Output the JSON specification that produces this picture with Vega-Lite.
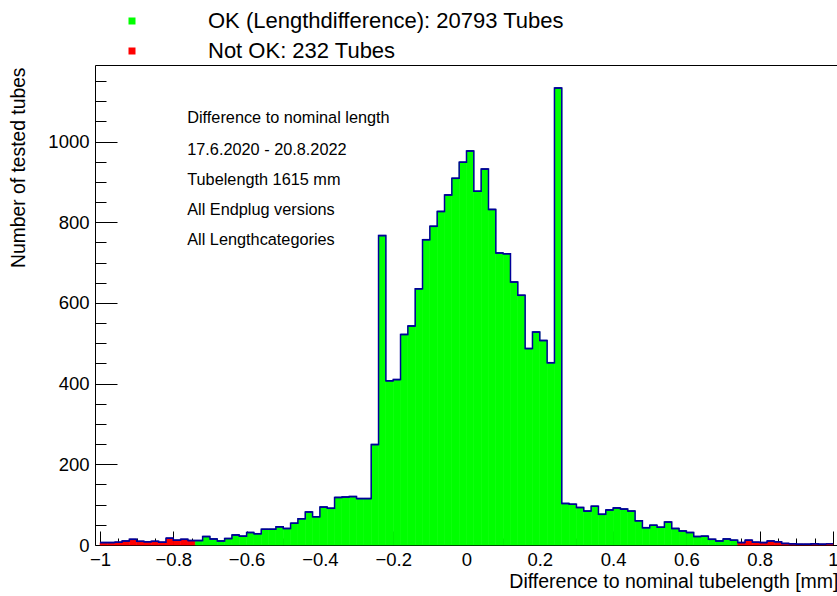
{
  "$schema": "https://vega.github.io/schema/vega-lite/v6.json",
  "autosize": {"type": "none"},
  "padding": {"left": 95, "top": 65, "right": 0, "bottom": 51},
  "width": 743,
  "height": 480,
  "background": "white",
  "config": {
    "font": "Liberation Sans",
    "view": {"stroke": "black", "strokeWidth": 1},
    "axis": {"labelFont": "Liberation Sans", "titleFont": "Liberation Sans", "titleFontWeight": "normal", "labelColor": "black", "titleColor": "black", "tickColor": "black", "domain": false, "grid": false, "labelFlush": false, "labelOverlap": false}
  },
  "datasets": {
    "bins": [
      {"x0": -1.00, "x1": -0.98, "count": 6, "status": "Not OK"},
      {"x0": -0.98, "x1": -0.96, "count": 6, "status": "Not OK"},
      {"x0": -0.96, "x1": -0.94, "count": 7, "status": "Not OK"},
      {"x0": -0.94, "x1": -0.92, "count": 10, "status": "Not OK"},
      {"x0": -0.92, "x1": -0.90, "count": 14, "status": "Not OK"},
      {"x0": -0.90, "x1": -0.88, "count": 9, "status": "Not OK"},
      {"x0": -0.88, "x1": -0.86, "count": 8, "status": "Not OK"},
      {"x0": -0.86, "x1": -0.84, "count": 9, "status": "Not OK"},
      {"x0": -0.84, "x1": -0.82, "count": 7, "status": "Not OK"},
      {"x0": -0.82, "x1": -0.80, "count": 17, "status": "Not OK"},
      {"x0": -0.80, "x1": -0.78, "count": 12, "status": "Not OK"},
      {"x0": -0.78, "x1": -0.76, "count": 14, "status": "Not OK"},
      {"x0": -0.76, "x1": -0.74, "count": 11, "status": "Not OK"},
      {"x0": -0.74, "x1": -0.72, "count": 11, "status": "OK"},
      {"x0": -0.72, "x1": -0.70, "count": 21, "status": "OK"},
      {"x0": -0.70, "x1": -0.68, "count": 15, "status": "OK"},
      {"x0": -0.68, "x1": -0.66, "count": 10, "status": "OK"},
      {"x0": -0.66, "x1": -0.64, "count": 16, "status": "OK"},
      {"x0": -0.64, "x1": -0.62, "count": 25, "status": "OK"},
      {"x0": -0.62, "x1": -0.60, "count": 22, "status": "OK"},
      {"x0": -0.60, "x1": -0.58, "count": 31, "status": "OK"},
      {"x0": -0.58, "x1": -0.56, "count": 28, "status": "OK"},
      {"x0": -0.56, "x1": -0.54, "count": 39, "status": "OK"},
      {"x0": -0.54, "x1": -0.52, "count": 39, "status": "OK"},
      {"x0": -0.52, "x1": -0.50, "count": 45, "status": "OK"},
      {"x0": -0.50, "x1": -0.48, "count": 41, "status": "OK"},
      {"x0": -0.48, "x1": -0.46, "count": 54, "status": "OK"},
      {"x0": -0.46, "x1": -0.44, "count": 65, "status": "OK"},
      {"x0": -0.44, "x1": -0.42, "count": 82, "status": "OK"},
      {"x0": -0.42, "x1": -0.40, "count": 70, "status": "OK"},
      {"x0": -0.40, "x1": -0.38, "count": 94, "status": "OK"},
      {"x0": -0.38, "x1": -0.36, "count": 91, "status": "OK"},
      {"x0": -0.36, "x1": -0.34, "count": 118, "status": "OK"},
      {"x0": -0.34, "x1": -0.32, "count": 119, "status": "OK"},
      {"x0": -0.32, "x1": -0.30, "count": 120, "status": "OK"},
      {"x0": -0.30, "x1": -0.28, "count": 115, "status": "OK"},
      {"x0": -0.28, "x1": -0.26, "count": 115, "status": "OK"},
      {"x0": -0.26, "x1": -0.24, "count": 249, "status": "OK"},
      {"x0": -0.24, "x1": -0.22, "count": 767, "status": "OK"},
      {"x0": -0.22, "x1": -0.20, "count": 407, "status": "OK"},
      {"x0": -0.20, "x1": -0.18, "count": 410, "status": "OK"},
      {"x0": -0.18, "x1": -0.16, "count": 522, "status": "OK"},
      {"x0": -0.16, "x1": -0.14, "count": 543, "status": "OK"},
      {"x0": -0.14, "x1": -0.12, "count": 635, "status": "OK"},
      {"x0": -0.12, "x1": -0.10, "count": 757, "status": "OK"},
      {"x0": -0.10, "x1": -0.08, "count": 790, "status": "OK"},
      {"x0": -0.08, "x1": -0.06, "count": 827, "status": "OK"},
      {"x0": -0.06, "x1": -0.04, "count": 868, "status": "OK"},
      {"x0": -0.04, "x1": -0.02, "count": 909, "status": "OK"},
      {"x0": -0.02, "x1": 0.00, "count": 949, "status": "OK"},
      {"x0": 0.00, "x1": 0.02, "count": 977, "status": "OK"},
      {"x0": 0.02, "x1": 0.04, "count": 877, "status": "OK"},
      {"x0": 0.04, "x1": 0.06, "count": 932, "status": "OK"},
      {"x0": 0.06, "x1": 0.08, "count": 832, "status": "OK"},
      {"x0": 0.08, "x1": 0.10, "count": 724, "status": "OK"},
      {"x0": 0.10, "x1": 0.12, "count": 722, "status": "OK"},
      {"x0": 0.12, "x1": 0.14, "count": 652, "status": "OK"},
      {"x0": 0.14, "x1": 0.16, "count": 619, "status": "OK"},
      {"x0": 0.16, "x1": 0.18, "count": 487, "status": "OK"},
      {"x0": 0.18, "x1": 0.20, "count": 528, "status": "OK"},
      {"x0": 0.20, "x1": 0.22, "count": 507, "status": "OK"},
      {"x0": 0.22, "x1": 0.24, "count": 452, "status": "OK"},
      {"x0": 0.24, "x1": 0.26, "count": 1133, "status": "OK"},
      {"x0": 0.26, "x1": 0.28, "count": 103, "status": "OK"},
      {"x0": 0.28, "x1": 0.30, "count": 101, "status": "OK"},
      {"x0": 0.30, "x1": 0.32, "count": 93, "status": "OK"},
      {"x0": 0.32, "x1": 0.34, "count": 84, "status": "OK"},
      {"x0": 0.34, "x1": 0.36, "count": 96, "status": "OK"},
      {"x0": 0.36, "x1": 0.38, "count": 76, "status": "OK"},
      {"x0": 0.38, "x1": 0.40, "count": 87, "status": "OK"},
      {"x0": 0.40, "x1": 0.42, "count": 92, "status": "OK"},
      {"x0": 0.42, "x1": 0.44, "count": 89, "status": "OK"},
      {"x0": 0.44, "x1": 0.46, "count": 84, "status": "OK"},
      {"x0": 0.46, "x1": 0.48, "count": 60, "status": "OK"},
      {"x0": 0.48, "x1": 0.50, "count": 43, "status": "OK"},
      {"x0": 0.50, "x1": 0.52, "count": 49, "status": "OK"},
      {"x0": 0.52, "x1": 0.54, "count": 44, "status": "OK"},
      {"x0": 0.54, "x1": 0.56, "count": 57, "status": "OK"},
      {"x0": 0.56, "x1": 0.58, "count": 41, "status": "OK"},
      {"x0": 0.58, "x1": 0.60, "count": 35, "status": "OK"},
      {"x0": 0.60, "x1": 0.62, "count": 31, "status": "OK"},
      {"x0": 0.62, "x1": 0.64, "count": 21, "status": "OK"},
      {"x0": 0.64, "x1": 0.66, "count": 22, "status": "OK"},
      {"x0": 0.66, "x1": 0.68, "count": 14, "status": "OK"},
      {"x0": 0.68, "x1": 0.70, "count": 10, "status": "OK"},
      {"x0": 0.70, "x1": 0.72, "count": 15, "status": "OK"},
      {"x0": 0.72, "x1": 0.74, "count": 12, "status": "OK"},
      {"x0": 0.74, "x1": 0.76, "count": 6, "status": "Not OK"},
      {"x0": 0.76, "x1": 0.78, "count": 12, "status": "Not OK"},
      {"x0": 0.78, "x1": 0.80, "count": 7, "status": "Not OK"},
      {"x0": 0.80, "x1": 0.82, "count": 6, "status": "Not OK"},
      {"x0": 0.82, "x1": 0.84, "count": 10, "status": "Not OK"},
      {"x0": 0.84, "x1": 0.86, "count": 8, "status": "Not OK"},
      {"x0": 0.86, "x1": 0.88, "count": 4, "status": "Not OK"},
      {"x0": 0.88, "x1": 0.90, "count": 3, "status": "Not OK"},
      {"x0": 0.90, "x1": 0.92, "count": 2, "status": "Not OK"},
      {"x0": 0.92, "x1": 0.94, "count": 2, "status": "Not OK"},
      {"x0": 0.94, "x1": 0.96, "count": 3, "status": "Not OK"},
      {"x0": 0.96, "x1": 0.98, "count": 2, "status": "Not OK"},
      {"x0": 0.98, "x1": 1.00, "count": 3, "status": "Not OK"}
    ],
    "notes": [
      {"tx": -0.762, "ty": 1059, "label": "Difference to nominal length"},
      {"tx": -0.762, "ty": 979, "label": "17.6.2020 - 20.8.2022"},
      {"tx": -0.762, "ty": 905, "label": "Tubelength 1615 mm"},
      {"tx": -0.762, "ty": 831, "label": "All Endplug versions"},
      {"tx": -0.762, "ty": 757, "label": "All Lengthcategories"}
    ]
  },
  "resolve": {"axis": {"x": "independent", "y": "independent"}},
  "layer": [
    {
      "data": {"name": "bins"},
      "mark": {"type": "bar", "strokeWidth": 0.6, "orient": "vertical"},
      "encoding": {
        "x": {"field": "x0", "type": "quantitative", "scale": {"domain": [-1, 1], "nice": false, "zero": false},
          "axis": {"orient": "bottom", "values": [-1, -0.8, -0.6, -0.4, -0.2, 0, 0.2, 0.4, 0.6, 0.8, 1], "format": "~g", "tickSize": -14, "labelPadding": 19, "labelFontSize": 18.5, "title": "Difference to nominal tubelength [mm]", "titleFontSize": 19.5, "titleAnchor": "end", "titleAlign": "right", "titleBaseline": "middle", "titleX": 743, "titleY": 36}},
        "x2": {"field": "x1"},
        "y": {"field": "count", "type": "quantitative", "scale": {"domain": [0, 1190], "nice": false},
          "axis": {"orient": "left", "values": [0, 200, 400, 600, 800, 1000], "format": "d", "tickSize": -22, "labelPadding": 28, "labelFontSize": 18.5, "title": "Number of tested tubes", "titleFontSize": 19.3, "titleAnchor": "end", "titleAlign": "right", "titleAngle": 270, "titleBaseline": "middle", "titleX": -77, "titleY": 2}},
        "y2": {"datum": 0},
        "color": {"field": "status", "type": "nominal", "scale": {"domain": ["OK", "Not OK"], "range": ["#00ff00", "#ff0000"]},
          "legend": {"orient": "none", "legendX": 26, "legendY": -55, "title": null, "symbolType": "square", "symbolSize": 49, "symbolStrokeWidth": 0, "labelOffset": 65, "labelFontSize": 22, "labelFont": "Liberation Sans", "labelColor": "black", "labelLimit": 0, "rowPadding": 8, "padding": 0,
            "labelExpr": "datum.label == 'OK' ? 'OK (Lengthdifference): 20793 Tubes' : 'Not OK: 232 Tubes'"}},
        "stroke": {"field": "status", "type": "nominal", "scale": {"domain": ["OK", "Not OK"], "range": ["#00ff00", "#ff0000"]}, "legend": null}
      }
    },
    {
      "data": {"name": "bins"},
      "mark": {"type": "line", "interpolate": "step-after", "color": "#000099", "strokeWidth": 1.5},
      "encoding": {
        "x": {"field": "x0", "type": "quantitative", "scale": {"domain": [-1, 1], "nice": false, "zero": false},
          "axis": {"orient": "bottom", "values": [-0.95, -0.9, -0.85, -0.75, -0.7, -0.65, -0.55, -0.5, -0.45, -0.35, -0.3, -0.25, -0.15, -0.1, -0.05, 0.05, 0.1, 0.15, 0.25, 0.3, 0.35, 0.45, 0.5, 0.55, 0.65, 0.7, 0.75, 0.85, 0.9, 0.95], "labels": false, "tickSize": -7, "title": null}},
        "y": {"field": "count", "type": "quantitative", "scale": {"domain": [0, 1190], "nice": false},
          "axis": {"orient": "left", "values": [50, 100, 150, 250, 300, 350, 450, 500, 550, 650, 700, 750, 850, 900, 950, 1050, 1100, 1150], "labels": false, "tickSize": -11, "title": null}}
      }
    },
    {
      "data": {"name": "bins"},
      "mark": {"type": "rule", "color": "#000099", "strokeWidth": 1.5},
      "encoding": {
        "x": {"field": "x0", "type": "quantitative", "axis": null},
        "x2": {"field": "x1"},
        "y": {"field": "count", "type": "quantitative", "axis": null}
      }
    },
    {
      "data": {"name": "notes"},
      "mark": {"type": "text", "align": "left", "baseline": "middle", "font": "Liberation Sans", "fontSize": 16.3, "color": "black"},
      "encoding": {
        "x": {"field": "tx", "type": "quantitative", "axis": null},
        "y": {"field": "ty", "type": "quantitative", "axis": null},
        "text": {"field": "label"}
      }
    }
  ]
}
